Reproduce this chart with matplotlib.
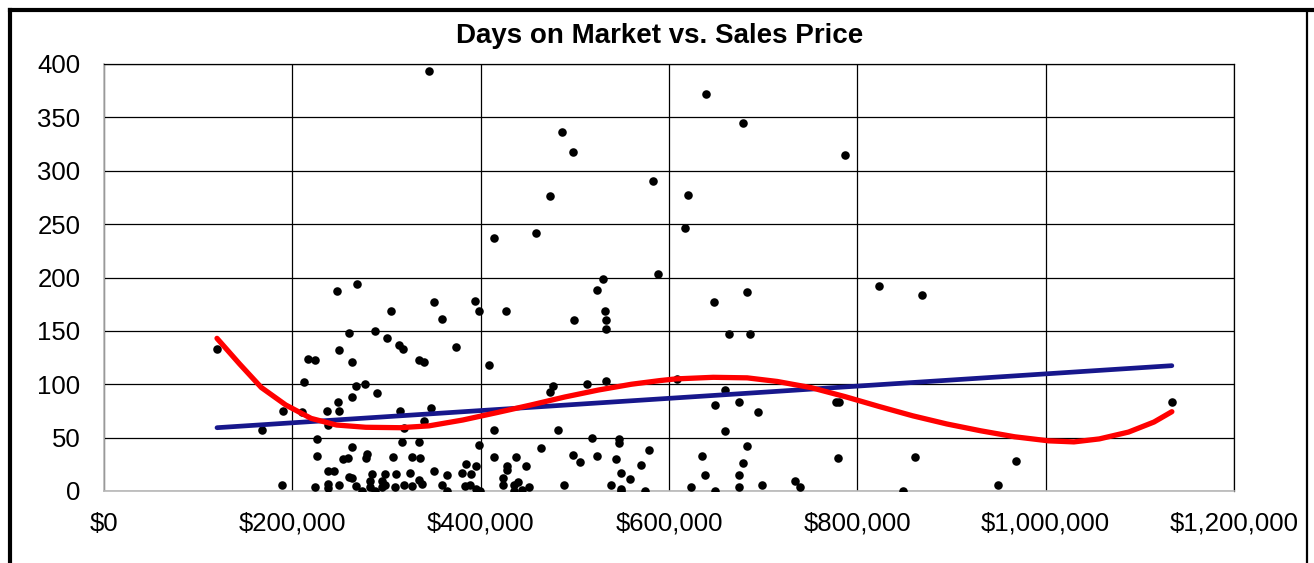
import matplotlib
matplotlib.use('agg')
import matplotlib.pyplot as plt
import matplotlib.lines as mlines
from matplotlib.ticker import FuncFormatter
import numpy as np

# sale price in $ thousands, days on market
price_k = [
    345, 639, 679, 486, 498, 787, 583, 474, 620, 617, 459, 414, 588, 530, 269,
    823, 247, 524, 683, 869, 394, 350, 648, 532, 533, 533, 427, 398, 305, 359,
    499, 664, 686, 260, 288, 300, 313, 318, 374, 120, 250, 217, 224, 335, 340,
    263, 409, 212, 533, 513, 477, 474, 268, 277, 263, 290, 608, 659, 649, 674,
    695, 777, 780, 1134, 249, 190, 210, 237, 250, 314, 347, 238, 319, 340, 168,
    414, 482, 659, 226, 316, 334, 518, 547, 547, 263, 398, 464, 683, 579, 226,
    254, 259, 278, 279, 307, 327, 336, 414, 438, 498, 524, 544, 635, 779, 861,
    969, 506, 679, 448, 428, 428, 570, 384, 395, 238, 244, 260, 263, 285, 298,
    310, 325, 350, 364, 380, 390, 549, 559, 424, 638, 674, 189, 224, 238, 238,
    250, 268, 274, 283, 282, 288, 295, 295, 298, 309, 319, 327, 334, 338, 359,
    364, 383, 389, 395, 399, 424, 435, 440, 435, 444, 451, 489, 538, 549, 549,
    575, 623, 649, 674, 699, 734, 739, 848, 949,
]
days = [
    393, 372, 345, 336, 318, 315, 290, 276, 277, 246, 242, 237, 203, 199, 194,
    192, 187, 188, 186, 184, 178, 177, 177, 169, 160, 152, 169, 169, 169, 161,
    160, 147, 147, 148, 150, 143, 137, 133, 135, 133, 132, 124, 123, 123, 121,
    121, 118, 102, 103, 100, 98, 93, 98, 100, 88, 92, 105, 95, 81, 83,
    74, 83, 83, 83, 83, 75, 74, 75, 75, 75, 78, 62, 59, 66, 57,
    57, 57, 56, 49, 46, 46, 50, 49, 45, 41, 43, 40, 42, 38, 33,
    30, 31, 31, 35, 32, 32, 31, 32, 32, 34, 33, 30, 33, 31, 32,
    28, 27, 26, 23, 23, 20, 24, 25, 23, 19, 19, 13, 12, 16, 16,
    16, 17, 19, 15, 17, 16, 17, 11, 12, 15, 15, 6, 4, 7, 3,
    6, 5, 0, 9, 4, 0, 9, 4, 6, 4, 6, 5, 10, 7, 6,
    0, 5, 6, 2, 0, 6, 6, 8, 0, 1, 4, 6, 6, 2, 0,
    0, 4, 0, 4, 6, 9, 4, 0, 6,
]

# linear trendline (ends)
lin_price_k = [120, 1134]
lin_days = [59.3, 117.4]

# polynomial trendline
poly_price_k = [120, 144, 167, 193, 220, 247, 278, 314, 345, 381, 417, 453,
                489, 525, 560, 590, 607, 647, 683, 715, 751, 787, 823, 859,
                895, 931, 967, 1003, 1030, 1057, 1088, 1115, 1134]
poly_days = [143, 119, 97, 80.6, 68, 61.8, 59.7, 59.3, 61, 66.5, 73.4, 80.5,
             88, 94.6, 100, 103.4, 105, 106.5, 106, 102.6, 96.8, 88.4, 79.2,
             70.4, 62.8, 56.4, 50.8, 47, 46, 48.8, 55.2, 64.6, 74.3]

x_ticks = [0, 200000, 400000, 600000, 800000, 1000000, 1200000]
y_ticks = [0, 50, 100, 150, 200, 250, 300, 350, 400]
title = 'Days on Market vs. Sales Price'

x = np.array(price_k, dtype=float) * 1000
y = np.array(days, dtype=float)

W, H = 1314, 563
fig = plt.figure(figsize=(W / 100, H / 100), dpi=100)
ax = fig.add_axes([104 / W, (H - 491) / H, 1130 / W, 427 / H])

ax.scatter(x, y, s=38, color='black', zorder=3, linewidths=0)

ax.plot(np.array(lin_price_k) * 1000, lin_days, color='#17178c', lw=3.4,
        zorder=4, solid_capstyle='round')
ax.plot(np.array(poly_price_k) * 1000, poly_days, color='#ff0000', lw=3.8,
        zorder=5, solid_capstyle='round', solid_joinstyle='round')

ax.set_xlim(x_ticks[0], x_ticks[-1])
ax.set_ylim(y_ticks[0], y_ticks[-1])
ax.set_xticks(x_ticks)
ax.set_yticks(y_ticks)
ax.xaxis.set_major_formatter(FuncFormatter(lambda v, p: '${:,.0f}'.format(v)))
ax.grid(True, color='black', lw=0.9, zorder=1)
ax.set_axisbelow(True)
ax.tick_params(length=0, labelsize=18.5)
ax.tick_params(axis='y', pad=17)
ax.tick_params(axis='x', pad=15)
for lab in ax.get_xticklabels() + ax.get_yticklabels():
    lab.set_fontfamily('Liberation Sans')

for side in ('left', 'bottom'):
    ax.spines[side].set_color('#b8b8b8')
    ax.spines[side].set_linewidth(1.2)
for side in ('top', 'right'):
    ax.spines[side].set_color('black')
    ax.spines[side].set_linewidth(0.9)

fig.text(660 / W, 1 - 36 / H, title, ha='center', va='center',
         fontsize=20, fontweight='bold', family='Liberation Sans')

# chart area border (cut off at the bottom)
fig.add_artist(mlines.Line2D([10 / W, 10 / W], [0, 1 - 10 / H], color='black', lw=3))
fig.add_artist(mlines.Line2D([10 / W, 1314 / W], [1 - 10 / H, 1 - 10 / H], color='black', lw=3))
fig.add_artist(mlines.Line2D([1307 / W, 1307 / W], [0, 1 - 10 / H], color='black', lw=1.6))

fig.savefig('out.png', dpi=100)
